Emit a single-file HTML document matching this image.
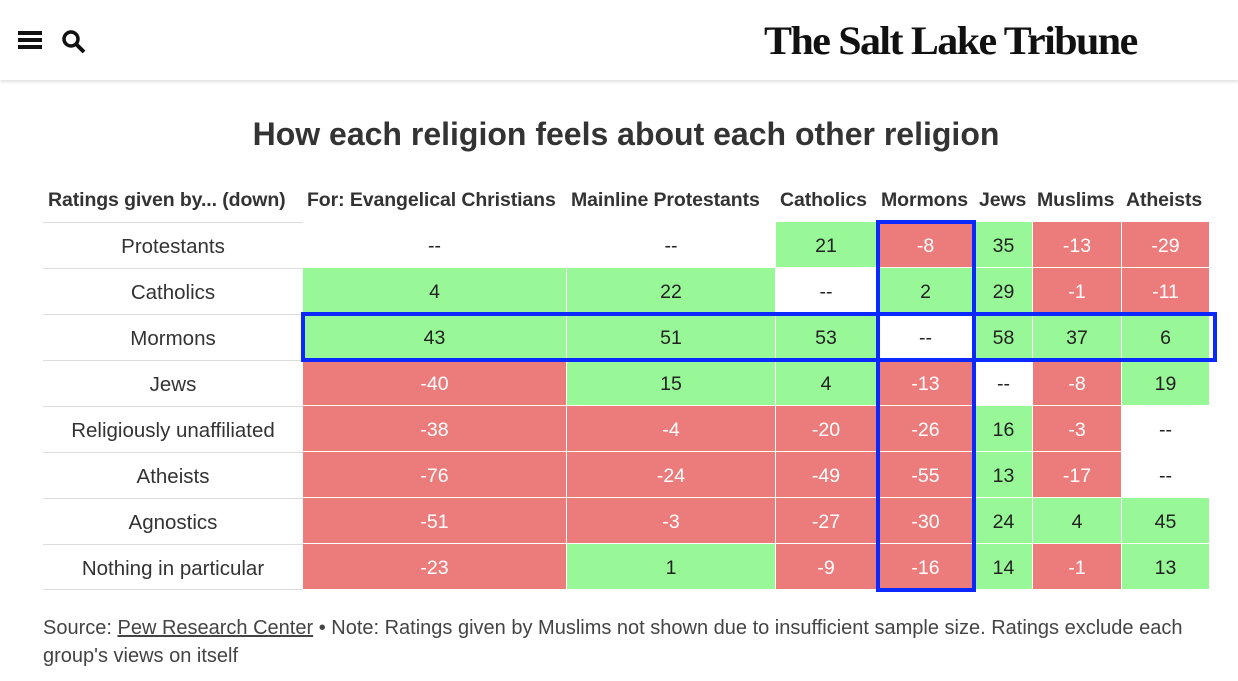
<!DOCTYPE html>
<html><head><meta charset="utf-8"><style>
body{margin:0;width:1238px;height:681px;background:#fff;font-family:"Liberation Sans",sans-serif;position:relative;overflow:hidden;color:#222}
.abs{position:absolute}
#hdr{left:0;top:0;width:1238px;height:80px;background:#fff;box-shadow:0 2px 3px rgba(0,0,0,0.12)}
.cell{position:absolute;display:flex;align-items:center;justify-content:center;font-size:19.5px;box-sizing:border-box;padding-top:3px}
.hd{position:absolute;font-weight:bold;font-size:19.5px;color:#333;top:189px;white-space:nowrap;letter-spacing:-0.1px}
</style></head><body>
<div id="hdr" class="abs">
  <div class="abs" style="left:18px;top:31px;width:24px;height:18px">
    <div class="abs" style="left:0;top:0;width:24px;height:4px;background:#111"></div>
    <div class="abs" style="left:0;top:7px;width:24px;height:4px;background:#111"></div>
    <div class="abs" style="left:0;top:14px;width:24px;height:4px;background:#111"></div>
  </div>
  <svg class="abs" style="left:61px;top:29px" width="26" height="26"><circle cx="10" cy="10" r="7" stroke="#111" stroke-width="3.5" fill="none"/><line x1="15" y1="15" x2="23" y2="23" stroke="#111" stroke-width="4"/></svg>
  <div class="abs" style="left:764px;top:17px;font-family:'Liberation Serif',serif;font-weight:bold;font-size:40px;letter-spacing:-1.5px;color:#111;white-space:nowrap;transform:scaleX(1.05);transform-origin:left">The Salt Lake Tribune</div>
</div>
<div class="abs" style="left:0;width:1252px;text-align:center;top:116px;font-size:32px;font-weight:bold;color:#333">How each religion feels about each other religion</div>
<div id="tbl"></div>
<div class="abs" style="left:43px;top:614px;width:1180px;font-size:20px;line-height:28px;color:#444">Source: <span style="text-decoration:underline">Pew Research Center</span> • Note: Ratings given by Muslims not shown due to insufficient sample size. Ratings exclude each group's views on itself</div>
<script>
const raters=["Protestants","Catholics","Mormons","Jews","Religiously unaffiliated","Atheists","Agnostics","Nothing in particular"];
const targets=["For: Evangelical Christians","Mainline Protestants","Catholics","Mormons","Jews","Muslims","Atheists"];
const values=[
[null,null,21,-8,35,-13,-29],
[4,22,null,2,29,-1,-11],
[43,51,53,null,58,37,6],
[-40,15,4,-13,null,-8,19],
[-38,-4,-20,-26,16,-3,null],
[-76,-24,-49,-55,13,-17,null],
[-51,-3,-27,-30,24,4,45],
[-23,1,-9,-16,14,-1,13]];
const colX=[303,567,776,877,975,1033,1122,1210];
const top0=222,rh=46;
function add(el){document.body.appendChild(el);return el;}
let h=document.createElement('div');h.className='hd';h.style.left='48px';h.textContent='Ratings given by... (down)';


add(h);
targets.forEach((t,j)=>{const d=document.createElement('div');d.className='hd';d.style.left=(colX[j]+4)+'px';d.textContent=t;


add(d);});
raters.forEach((r,i)=>{
 const y=top0+i*rh;
 const l=document.createElement('div');l.className='cell';
 l.style.cssText+=`left:43px;top:${y}px;width:260px;height:${rh}px;border-top:1px solid #ddd;color:#333;font-size:20.5px`;
 if(i==raters.length-1) l.style.borderBottom='1px solid #ddd';
 l.textContent=r;
 
 
 add(l);
 values[i].forEach((v,j)=>{
  const c=document.createElement('div');c.className='cell';
  const bg=v===null?'#fff':(v>=0?'#98f898':'#ec7c7c');
  c.style.cssText+=`left:${colX[j]}px;top:${y}px;width:${colX[j+1]-colX[j]}px;height:${rh}px;background:${bg};border-right:1px solid #fff;border-bottom:1px solid #fff;color:${v!==null&&v<0?'#fff':'#222'}`;
  c.textContent=v===null?'--':String(v);
  
  
  add(c);
 });
});
const hc=document.createElement('div');hc.className='abs';
hc.style.cssText=`left:${colX[3]-1}px;top:${top0-2}px;width:${colX[4]-colX[3]+2}px;height:${rh*8+4}px;border:4px solid #0a28ff;box-sizing:border-box`;


add(hc);
const hr=document.createElement('div');hr.className='abs';
hr.style.cssText=`left:301px;top:${top0+2*rh-2}px;width:916px;height:${rh+4}px;border:4px solid #0a28ff;box-sizing:border-box`;


add(hr);
</script>
</body></html>
